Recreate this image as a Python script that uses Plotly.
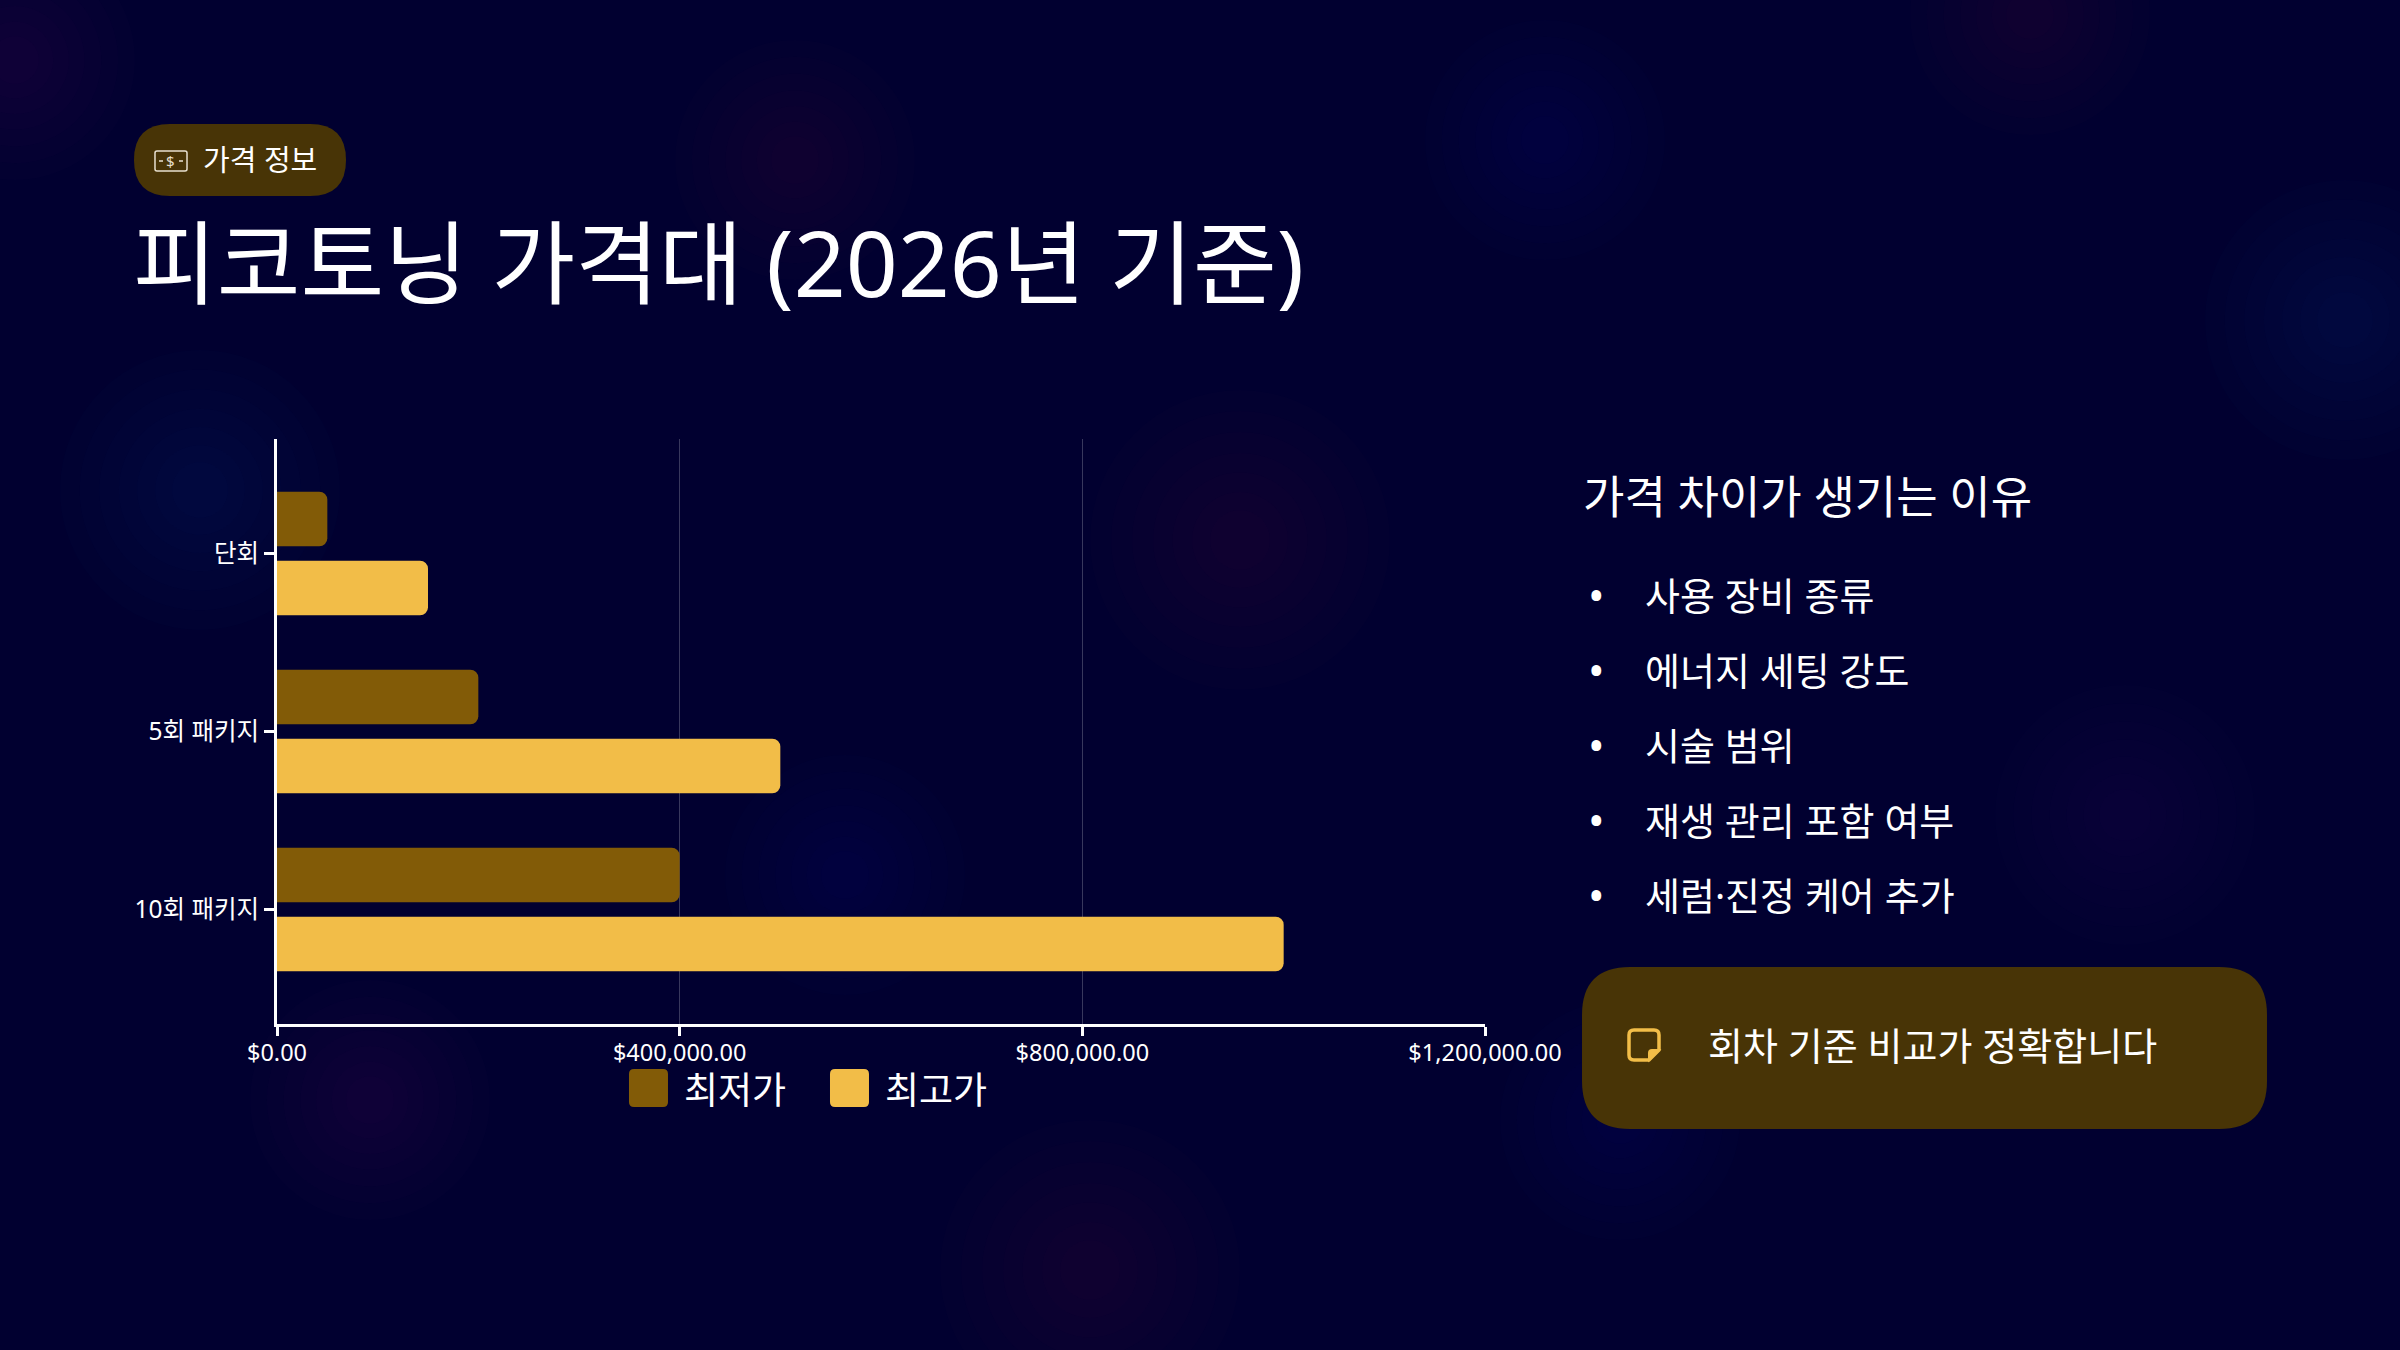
import plotly.graph_objects as go

W, H = 2400, 1350

categories = ['단회', '5회 패키지', '10회 패키지']
min_price = [50000, 200000, 400000]
max_price = [150000, 500000, 1000000]
series_names = ['최저가', '최고가']

reasons = ['사용 장비 종류', '에너지 세팅 강도', '시술 범위', '재생 관리 포함 여부', '세럼·진정 케어 추가']

bg = '#010030'
dark_gold = '#825b07'
gold = '#f2bd48'
box_brown = '#483406'
font_kr = 'Noto Sans, Noto Sans CJK KR'


def px(x, y):
    # pixel position -> paper coords
    return x / W, 1 - y / H


def pt(x, y):
    a, b = px(x, y)
    return '{:.5f},{:.5f}'.format(a, b)


def rounded_rect(x0, y0, x1, y1, r):
    return ('M ' + pt(x0 + r, y0) + ' L ' + pt(x1 - r, y0) +
            ' Q ' + pt(x1, y0) + ' ' + pt(x1, y0 + r) +
            ' L ' + pt(x1, y1 - r) +
            ' Q ' + pt(x1, y1) + ' ' + pt(x1 - r, y1) +
            ' L ' + pt(x0 + r, y1) +
            ' Q ' + pt(x0, y1) + ' ' + pt(x0, y1 - r) +
            ' L ' + pt(x0, y0 + r) +
            ' Q ' + pt(x0, y0) + ' ' + pt(x0 + r, y0) + ' Z')


fig = go.Figure()

fig.add_trace(go.Bar(y=categories, x=min_price, name=series_names[0], orientation='h',
                     marker=dict(color=dark_gold, line=dict(width=0)), showlegend=False,
                     hoverinfo='skip'))
fig.add_trace(go.Bar(y=categories, x=max_price, name=series_names[1], orientation='h',
                     marker=dict(color=gold, line=dict(width=0)), showlegend=False,
                     hoverinfo='skip'))

shapes = []

# soft background glows
glows = [
    (15, 60, 120, '120,40,110'),
    (200, 490, 140, '40,70,160'),
    (795, 160, 120, '120,50,80'),
    (1545, 140, 120, '40,60,150'),
    (2345, 320, 140, '40,70,160'),
    (1240, 540, 150, '110,40,90'),
    (845, 875, 120, '40,60,150'),
    (370, 1100, 120, '110,40,110'),
    (1090, 1270, 150, '120,50,80'),
    (2125, 815, 130, '100,40,110'),
    (1620, 1120, 120, '40,60,150'),
    (2030, 15, 120, '120,50,80'),
]
for cx, cy, r, c in glows:
    for k in [1.0, 0.86, 0.72, 0.58, 0.45, 0.32, 0.2]:
        a0 = px(cx - r * k, cy + r * k)
        a1 = px(cx + r * k, cy - r * k)
        shapes.append(dict(type='circle', xref='paper', yref='paper', layer='below',
                           x0=a0[0], y0=a0[1], x1=a1[0], y1=a1[1],
                           fillcolor='rgba({},0.022)'.format(c), line=dict(width=0)))

# badge
shapes.append(dict(type='path', xref='paper', yref='paper', layer='below',
                   path=rounded_rect(134, 124, 346, 196, 36),
                   fillcolor=box_brown, line=dict(width=0)))
shapes.append(dict(type='path', xref='paper', yref='paper',
                   path=rounded_rect(155, 151, 187, 171, 2),
                   fillcolor='rgba(0,0,0,0)', line=dict(color='#e8e0d0', width=1.5)))
for xa, xb in [(159, 163), (179, 183)]:
    a0 = px(xa, 161)
    a1 = px(xb, 161)
    shapes.append(dict(type='line', xref='paper', yref='paper', x0=a0[0], y0=a0[1],
                       x1=a1[0], y1=a1[1], line=dict(color='#e8e0d0', width=1.5)))

# callout box
shapes.append(dict(type='path', xref='paper', yref='paper', layer='below',
                   path=rounded_rect(1582, 967, 2267, 1129, 48),
                   fillcolor=box_brown, line=dict(width=0)))
# note icon
nx0, ny0, nx1, ny1, cut = 1629, 1030, 1659, 1060, 10
note_path = ('M ' + pt(nx0 + 5, ny0) + ' L ' + pt(nx1 - 5, ny0) +
             ' Q ' + pt(nx1, ny0) + ' ' + pt(nx1, ny0 + 5) +
             ' L ' + pt(nx1, ny1 - cut) + ' L ' + pt(nx1 - cut, ny1) +
             ' L ' + pt(nx0 + 5, ny1) + ' Q ' + pt(nx0, ny1) + ' ' + pt(nx0, ny1 - 5) +
             ' L ' + pt(nx0, ny0 + 5) + ' Q ' + pt(nx0, ny0) + ' ' + pt(nx0 + 5, ny0) + ' Z')
shapes.append(dict(type='path', xref='paper', yref='paper', path=note_path,
                   fillcolor='rgba(0,0,0,0)', line=dict(color=gold, width=3.5)))
fold_path = ('M ' + pt(nx1 - cut, ny1) + ' L ' + pt(nx1 - cut, ny1 - cut + 3) +
             ' Q ' + pt(nx1 - cut, ny1 - cut) + ' ' + pt(nx1 - cut + 3, ny1 - cut) +
             ' L ' + pt(nx1, ny1 - cut) + ' Z')
shapes.append(dict(type='path', xref='paper', yref='paper', path=fold_path,
                   fillcolor=gold, line=dict(color=gold, width=2)))

# legend swatches
legend_items = [(629, series_names[0], dark_gold), (830, series_names[1], gold)]
for lx, name, col in legend_items:
    shapes.append(dict(type='path', xref='paper', yref='paper',
                       path=rounded_rect(lx, 1069, lx + 39, 1107, 5),
                       fillcolor=col, line=dict(width=0)))

annotations = []


def text(x, y, s, size, color='white', anchor='left'):
    a = px(x, y)
    annotations.append(dict(x=a[0], y=a[1], xref='paper', yref='paper', text=s,
                            showarrow=False, xanchor=anchor, yanchor='middle',
                            font=dict(family=font_kr, size=size, color=color)))


text(171, 161, '$', 15, '#e8e0d0', 'center')
text(201, 160, '가격 정보', 29)
text(131, 262, '피코토닝 가격대 (2026년 기준)', 91)
text(1581, 496, '가격 차이가 생기는 이유', 45)
for i, r in enumerate(reasons):
    yy = 595 + i * 75
    text(1586, yy, '•', 44)
    text(1643, yy, r, 38)
text(1706, 1045, '회차 기준 비교가 정확합니다', 38)
for lx, name, col in legend_items:
    text(lx + 53, 1089, name, 37)

xd0, yd1 = px(277, 439)
xd1, yd0 = px(1485, 1024)

fig.update_layout(
    width=W, height=H,
    margin=dict(l=0, r=0, t=0, b=0, pad=0, autoexpand=False),
    paper_bgcolor=bg, plot_bgcolor='rgba(0,0,0,0)',
    barmode='group', bargap=0.224, bargroupgap=0.21, barcornerradius=8,
    font=dict(family=font_kr, color='white'),
    shapes=shapes, annotations=annotations,
    showlegend=False,
    xaxis=dict(domain=[xd0, xd1], range=[0, 1200000], tick0=0, dtick=400000,
               tickformat='$,.2f', showgrid=True, gridcolor='rgba(255,255,255,0.22)',
               gridwidth=1, zeroline=False, showline=True, linecolor='white',
               linewidth=3, ticks='outside', ticklen=9, tickwidth=3, tickcolor='white',
               ticklabelstandoff=-3, automargin=False,
               tickfont=dict(family=font_kr, size=23.5, color='white'), fixedrange=True),
    yaxis=dict(domain=[yd0, yd1], type='category', categoryorder='array',
               categoryarray=categories, range=[2.643, -0.643], showgrid=False,
               zeroline=False, showline=True, linecolor='white', linewidth=3,
               ticks='outside', ticklen=10, tickwidth=3, tickcolor='white',
               automargin=False,
               tickfont=dict(family=font_kr, size=24.5, color='white'), fixedrange=True),
)

fig.write_html('out.html', config={'displayModeBar': False},
               post_script="document.body.style.margin='0';"
                           "document.body.style.background='" + bg + "';")
